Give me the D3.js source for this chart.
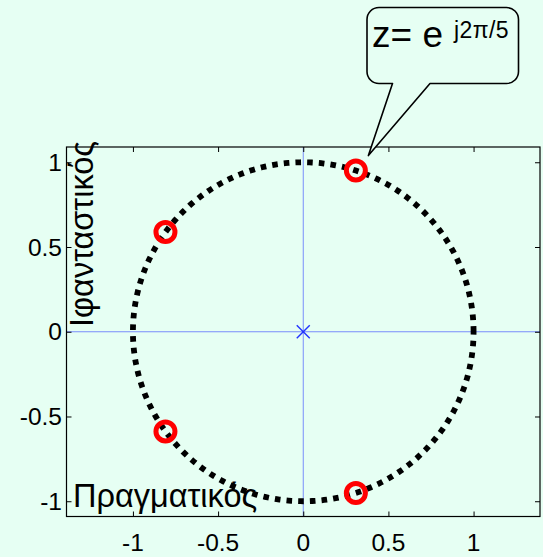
<!DOCTYPE html>
<html>
<head>
<meta charset="utf-8">
<script src="https://cdn.jsdelivr.net/npm/d3@7"></script>
<style>
  html, body { margin: 0; padding: 0; background: #e6fff3; }
  svg { display: block; }
  text { font-family: "Liberation Sans", Arial, sans-serif; fill: #000; }
</style>
</head>
<body>
<svg id="chart" width="543" height="557"></svg>
<script>
// Pole-zero plot of H(z) = 1 + z^-1 + z^-2 + z^-3 + z^-4
const xTickValues = [-1, -0.5, 0, 0.5, 1];
const xTickLabels = ["-1", "-0.5", "0", "0.5", "1"];
const yTickValues = [-1, -0.5, 0, 0.5, 1];
const yTickLabels = ["-1", "-0.5", "0", "0.5", "1"];

// zeros: e^{j2πk/5}, k = 1..4
const zeroRe = [0.309, -0.809, -0.809, 0.309];
const zeroIm = [0.951, 0.588, -0.588, -0.951];
// poles (fourth order) at the origin
const poleRe = [0];
const poleIm = [0];

const xLabel = "Πραγματικός";
const yLabel = "Ιφανταστικός";
const calloutText = "z= e";
const calloutSup = "j2π/5";

const svg = d3.select("#chart");
const plot = { left: 66.5, right: 540, top: 147, bottom: 516.5 };

const x = d3.scaleLinear().domain([-1.39, 1.39]).range([plot.left, plot.right]);
const y = d3.scaleLinear().domain([-1.09, 1.09]).range([plot.bottom, plot.top]);

const blue = "#4a5cff";

// real and imaginary axis lines
svg.append("line")
  .attr("x1", x(0)).attr("x2", x(0))
  .attr("y1", plot.top).attr("y2", plot.bottom)
  .attr("stroke", blue).attr("stroke-width", 1).attr("stroke-opacity", 0.7);
svg.append("line")
  .attr("x1", plot.left).attr("x2", plot.right)
  .attr("y1", y(0)).attr("y2", y(0))
  .attr("stroke", blue).attr("stroke-width", 1).attr("stroke-opacity", 0.7);

// axes with inward ticks on all four sides
const tickLen = 5;
svg.append("g").attr("transform", `translate(0,${plot.bottom})`)
  .call(d3.axisBottom(x).tickValues(xTickValues).tickSizeInner(-tickLen).tickSizeOuter(0).tickFormat(""))
  .call(g => g.select(".domain").remove());
svg.append("g").attr("transform", `translate(0,${plot.top})`)
  .call(d3.axisTop(x).tickValues(xTickValues).tickSizeInner(-tickLen).tickSizeOuter(0).tickFormat(""))
  .call(g => g.select(".domain").remove());
svg.append("g").attr("transform", `translate(${plot.left},0)`)
  .call(d3.axisLeft(y).tickValues(yTickValues).tickSizeInner(-tickLen).tickSizeOuter(0).tickFormat(""))
  .call(g => g.select(".domain").remove());
svg.append("g").attr("transform", `translate(${plot.right},0)`)
  .call(d3.axisRight(y).tickValues(yTickValues).tickSizeInner(-tickLen).tickSizeOuter(0).tickFormat(""))
  .call(g => g.select(".domain").remove());

svg.selectAll("g.tick line").attr("stroke", "#000").attr("stroke-width", 1);

// tick labels
svg.append("g").selectAll("text").data(xTickValues).join("text")
  .attr("x", d => x(d)).attr("y", 551)
  .attr("text-anchor", "middle").attr("font-size", 24.5)
  .text((d, i) => xTickLabels[i]);
svg.append("g").selectAll("text").data(yTickValues).join("text")
  .attr("x", 62).attr("y", d => y(d) + 8.5)
  .attr("text-anchor", "end").attr("font-size", 24.5)
  .text((d, i) => yTickLabels[i]);

// unit circle, dotted
const angles = d3.range(0, 361, 1).map(a => a * Math.PI / 180);
const circleLine = d3.line().x(t => x(Math.cos(t))).y(t => y(Math.sin(t)));
svg.append("path")
  .attr("d", circleLine(angles))
  .attr("fill", "none")
  .attr("stroke", "#000")
  .attr("stroke-width", 5.8)
  .attr("stroke-dasharray", "5.6,6.1");

// zeros
svg.append("g").selectAll("circle").data(zeroRe).join("circle")
  .attr("cx", d => x(d))
  .attr("cy", (d, i) => y(zeroIm[i]))
  .attr("r", 9.5)
  .attr("fill", "none")
  .attr("stroke", "#ff0000")
  .attr("stroke-width", 5);

// poles
const px = 6.5;
const poles = svg.append("g").selectAll("g").data(poleRe).join("g")
  .attr("transform", (d, i) => `translate(${x(d)},${y(poleIm[i])})`);
poles.append("line").attr("x1", -px).attr("y1", -px).attr("x2", px).attr("y2", px)
  .attr("stroke", "#2233ff").attr("stroke-width", 1.4);
poles.append("line").attr("x1", -px).attr("y1", px).attr("x2", px).attr("y2", -px)
  .attr("stroke", "#2233ff").attr("stroke-width", 1.4);

// axis frame
svg.append("rect")
  .attr("x", plot.left).attr("y", plot.top)
  .attr("width", plot.right - plot.left).attr("height", plot.bottom - plot.top)
  .attr("fill", "none").attr("stroke", "#000").attr("stroke-width", 1.2);

// axis titles
svg.append("text")
  .attr("x", 73).attr("y", 507)
  .attr("font-size", 32.5)
  .text(xLabel);
svg.append("text")
  .attr("transform", "translate(93,327) rotate(-90)")
  .attr("font-size", 32.5)
  .text(yLabel);

// speech-bubble callout pointing at the first zero
const tipX = x(zeroRe[0]) + 12.5;
const tipY = y(zeroIm[0]) - 15;
const bx0 = 367, bx1 = 518.5, by0 = 7.5, by1 = 83.5, r = 12;
const baseL = 392.5, baseR = 430;
const bubble = d3.path();
bubble.moveTo(bx0 + r, by0);
bubble.lineTo(bx1 - r, by0);
bubble.arcTo(bx1, by0, bx1, by0 + r, r);
bubble.lineTo(bx1, by1 - r);
bubble.arcTo(bx1, by1, bx1 - r, by1, r);
bubble.lineTo(baseR, by1);
bubble.lineTo(tipX, tipY);
bubble.lineTo(baseL, by1);
bubble.lineTo(bx0 + r, by1);
bubble.arcTo(bx0, by1, bx0, by1 - r, r);
bubble.lineTo(bx0, by0 + r);
bubble.arcTo(bx0, by0, bx0 + r, by0, r);
bubble.closePath();
svg.append("path")
  .attr("d", bubble.toString())
  .attr("fill", "#e6fff3")
  .attr("stroke", "#000")
  .attr("stroke-width", 1.6)
  .attr("stroke-linejoin", "round");

svg.append("text").attr("x", 372).attr("y", 47).attr("font-size", 37)
  .text(calloutText);
svg.append("text").attr("x", 454).attr("y", 37.5).attr("font-size", 23)
  .attr("letter-spacing", 0.4)
  .text(calloutSup);
</script>
</body>
</html>
